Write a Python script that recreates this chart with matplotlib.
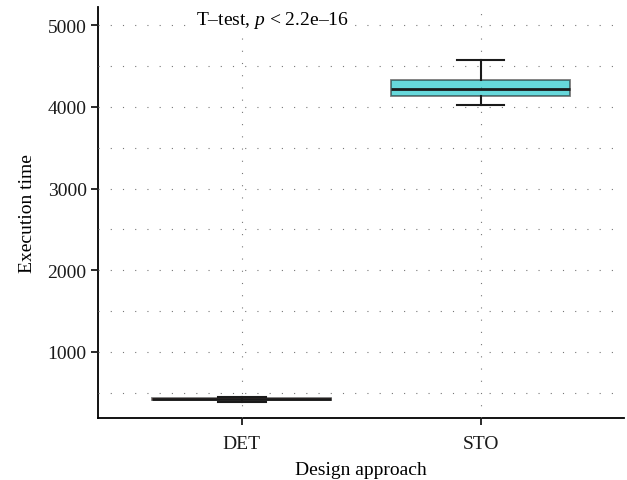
import matplotlib.pyplot as plt
from matplotlib.ticker import MultipleLocator

# values
groups = ['DET', 'STO']
whis_low = [385, 4020]
q1 = [412, 4127]
median = [425, 4217]
q3 = [438, 4330]
whis_high = [452, 4575]
fills = ['#F8766D', '#00BFC4']

plt.rcParams['font.family'] = ['Liberation Serif', 'DejaVu Serif']
plt.rcParams['mathtext.fontset'] = 'custom'
plt.rcParams['mathtext.rm'] = 'Liberation Serif'
plt.rcParams['mathtext.it'] = 'Liberation Serif:italic'

fig = plt.figure(figsize=(6.27, 4.81), dpi=100)
ax = fig.add_axes((0.157, 0.129, 0.838, 0.854))

stats = []
for i, g in enumerate(groups):
    stats.append({'label': g, 'whislo': whis_low[i], 'q1': q1[i], 'med': median[i],
                  'q3': q3[i], 'whishi': whis_high[i], 'fliers': []})

pos = list(range(1, len(groups) + 1))
bp = ax.bxp(stats, positions=pos, widths=0.75, patch_artist=True, showfliers=False,
            boxprops=dict(edgecolor='#222222', linewidth=1.3),
            medianprops=dict(color='#1a1a1a', linewidth=2),
            whiskerprops=dict(color='#1a1a1a', linewidth=1.5),
            capprops=dict(color='#1a1a1a', linewidth=1.5),
            capwidths=0.2, zorder=3)
for patch, c in zip(bp['boxes'], fills):
    patch.set_facecolor(c)
    patch.set_alpha(0.6)

ax.set_xlim(0.4, 2.6)
ax.set_ylim(192, 5220)
ax.yaxis.set_major_locator(MultipleLocator(1000))
ax.yaxis.set_minor_locator(MultipleLocator(500))
ax.set_xticks(pos)
ax.set_xticklabels(groups)

ax.grid(True, which='both', axis='y', color='#777777', linestyle=(0, (1, 10)), linewidth=0.8, zorder=0)
ax.grid(True, which='major', axis='x', color='#777777', linestyle=(0, (1, 10)), linewidth=0.8, zorder=4)
ax.set_axisbelow(False)

for s in ['top', 'right']:
    ax.spines[s].set_visible(False)
for s in ['left', 'bottom']:
    ax.spines[s].set_linewidth(1.3)

ax.tick_params(axis='both', which='major', length=5, width=1.3, labelsize=14, colors='#1a1a1a')
ax.tick_params(axis='x', which='major', pad=7)
ax.tick_params(axis='y', which='minor', length=0)
ax.set_xlabel('Design approach', fontsize=14, labelpad=7)
ax.set_ylabel('Execution time', fontsize=14, labelpad=8)

ax.text(0.81, 5075, 'T\u2013test, $p$ < 2.2e\u201316', fontsize=14, ha='left', va='center',
        zorder=5, bbox=dict(facecolor='white', edgecolor='none', pad=0.5))

fig.savefig('out.png', dpi=100)
